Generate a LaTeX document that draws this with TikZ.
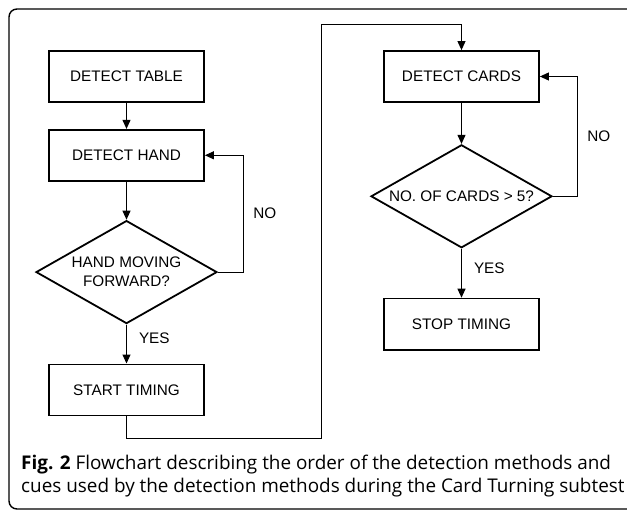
\documentclass[tikz,border=0pt]{standalone}
\usepackage{fontspec}
\setmainfont{Liberation Sans}
\newfontfamily\captfont{Open Sans}
\usetikzlibrary{positioning, arrows.meta,
shapes.geometric % for the decision diamonds
}
\tikzset{%
  stepbox/.style={draw, line width=1.8pt, minimum width=155pt, minimum height=51pt, inner sep=0pt},
  decision/.style={draw, diamond, aspect=1.76, line width=1.8pt, minimum width=181pt, minimum height=103pt, inner sep=0pt, align=center},
  flow/.style={->, line width=1pt},
  answer/.style={inner sep=0pt}
}
\begin{document}
\begin{tikzpicture}[x=1pt, y=-1pt, node distance=26pt, font=\fontsize{15.3}{19}\selectfont, >={Triangle[length=9pt,width=8pt]}]
\useasboundingbox (0,0) rectangle (627,513);
\draw[line width=1.4pt, rounded corners=8pt] (9,9) rectangle (660,509);

% left column
\node[stepbox] (table) at (126.5,76.5) {DETECT TABLE};
\node[stepbox, below=26pt of table] (hand) {DETECT HAND};
\node[decision, below=38pt of hand] (moving) {HAND MOVING\\FORWARD?};
\node[stepbox, below=39pt of moving] (start) {START TIMING};

% right column
\node[stepbox] (cards) at (461.5,76.5) {DETECT CARDS};
\node[decision, below=41pt of cards] (count) {NO. OF CARDS > 5?};
\node[stepbox, below=49pt of count] (stop) {STOP TIMING};

\draw[flow] (table) -- (hand);
\draw[flow] (hand) -- (moving);
\draw[flow] (moving) -- node[answer, right=12pt, pos=0.35] {YES} (start);
\draw[flow] (moving.east) -- ++(26,0) |- node[answer, right=9pt, pos=0.25] {NO} (hand.east);

\coordinate (bend1) at (321,438);
\coordinate (bend2) at (321,25);
\draw[flow] (start.south) |- (bend1) -- (bend2) -| (cards.north);

\draw[flow] (cards) -- (count);
\draw[flow] (count) -- node[answer, right=12pt, pos=0.4] {YES} (stop);
\draw[flow] (count.east) -- ++(25,0) |- node[answer, right=9pt, pos=0.25] {NO} (cards.east);

\node[anchor=base west, inner sep=0pt, align=left, font=\captfont\fontsize{18.9}{23}\selectfont] (caption) at (21,492)
  {\textbf{Fig. 2} Flowchart describing the order of the detection methods and\\cues used by the detection methods during the Card Turning subtest};
\end{tikzpicture}
\end{document}
